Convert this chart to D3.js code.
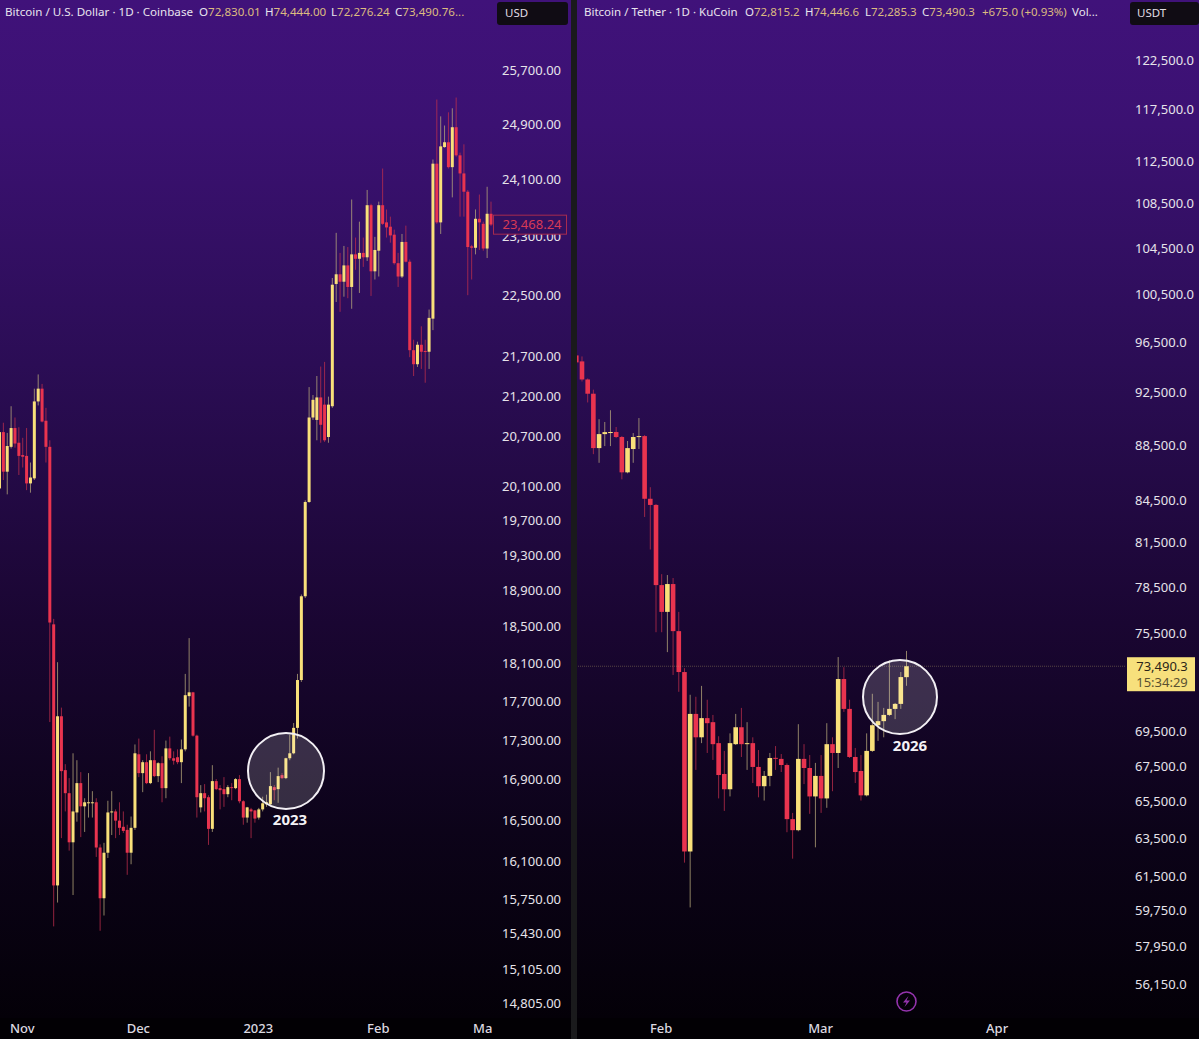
<!DOCTYPE html>
<html>
<head>
<meta charset="utf-8">
<script src="https://cdn.jsdelivr.net/npm/d3@7/dist/d3.min.js"></script>
<style>
html, body { margin: 0; padding: 0; background: #000; }
svg { display: block; }
text { font-family: "Noto Sans", sans-serif; }
</style>
</head>
<body>
<svg id="chart" width="1199" height="1039"></svg>
<script>
// BTC/USD Coinbase, daily, from 26 Oct 2022
var leftOpen = [20080,20760,20280,20580,20810,20630,20480,20470,20140,20200,
21140,21300,20900,20580,18530,15880,17550,17000,16770,16290,
16580,16870,16640,16670,16670,16680,16240,15760,16190,16580,
16590,16500,16440,16410,16190,16430,17160,16970,17080,16870,
17100,16940,17070,16820,17220,17120,17130,17080,17210,17760,
17800,17350,16630,16770,16730,16420,16890,16820,16810,16760,
16830,16820,16910,16690,16530,16610,16600,16530,16610,16660,
16660,16830,16810,16950,16920,17120,17170,17430,17930,18840,
19920,20940,20910,21190,21100,20700,21080,22660,22790,22690,
22910,22620,23060,23000,23080,23020,23740,22830,23110,23740,
23500,23440,23330,22940,22760,23230,22960,21790,21610,21860,
21780,21770,22200,24330,23500,24570,24640,24280,24860,24450,
24190,23930,23170,23150,23550,23480,23140,23620];
var leftHigh = [20880,20875,20750,21080,20940,20820,20690,20810,20390,21300,
21480,21360,21060,20660,18590,18120,17640,17060,16920,17170,
17100,16980,16720,16970,16790,16720,16270,16285,16695,16790,
16610,16680,16590,16460,16540,17260,17320,17100,17160,17190,
17410,17080,17140,17300,17340,17190,17210,17310,17995,18380,
17805,17360,16850,16860,16750,17050,16910,16850,16930,16850,
16870,16920,16950,16700,16635,16625,16605,16625,16735,16755,
16980,16850,17025,16970,17125,17360,17480,17995,18860,19940,
21320,21220,21460,21580,21640,21200,22740,23355,23080,23175,
23160,23820,23290,23510,23290,23955,23760,23300,23790,24260,
23680,23580,23400,23080,23340,23455,22990,21925,21900,22100,
21925,22320,24390,25270,25020,24885,25080,25140,25300,24490,
24610,23955,23190,23680,23890,23510,24000,23790];
var leftLow = [20010,20180,20010,20560,20570,20240,20330,20060,20030,20180,
21090,20880,20390,17490,15500,15720,16330,16590,16210,15790,
16490,16340,16390,16530,16530,16150,15460,15600,16140,16360,
16330,16360,16380,15980,16080,16410,16930,16780,16860,16860,
16930,16880,16680,16720,17100,17055,17060,16870,17190,17650,
17340,16530,16580,16590,16265,16390,16800,16610,16635,16730,
16700,16810,16670,16460,16480,16330,16480,16510,16590,16635,
16645,16700,16675,16910,16910,17100,17160,17320,17910,18820,
19910,20910,20660,20630,20640,20630,21060,22420,22290,22490,
22470,22330,22850,22540,22890,22970,22500,22720,22760,23465,
23290,23220,22920,22620,22740,22950,21700,21460,21575,21550,
21375,21550,22050,23480,23340,24560,24260,23850,24430,23580,
23580,22510,22720,23060,23120,23110,23010,23450];
var leftClose = [20760,20280,20590,20810,20620,20470,20460,20140,20210,21140,
21300,20890,20580,18550,15880,17550,16990,16770,16290,16590,
16870,16640,16680,16680,16680,16240,15760,16190,16580,16590,
16500,16430,16400,16190,16430,17170,16970,17080,16870,17100,
16940,17070,16820,17220,17120,17095,17080,17210,17770,17800,
17350,16730,16770,16720,16420,16890,16810,16800,16760,16830,
16820,16910,16690,16530,16630,16590,16520,16610,16670,16680,
16840,16800,16940,16920,17120,17170,17430,17930,18840,19920,
20940,21160,21190,20850,20660,21100,22650,22790,22690,22910,
22620,23060,23000,23080,23020,23740,22830,23120,23740,23480,
23430,23320,22940,22760,23230,22960,21790,21610,21860,21770,
21770,22210,24330,23500,24580,24640,24280,24860,24450,24190,
23930,23160,23150,23550,23500,23140,23620,23470];

// BTC/USDT KuCoin, daily, from 17 Jan 2026
var rightOpen = [95540,95060,93620,92500,88350,89400,89480,89560,89180,86560,
88280,89180,89250,84650,84210,78700,76940,78770,75700,73130,
62850,70590,69210,70340,70100,68870,67100,66240,68810,69800,
68810,68870,67500,66410,66990,68020,67960,67610,64590,63990,
67960,67440,65840,66990,65730,68810,68300,72700,70890,68070,
67270,65900,68420,69920,70160,70530,70890,71190,72815.2];
var rightHigh = [95700,95460,93700,92820,90530,90320,91220,89940,89260,88880,
89480,90620,89330,85480,84280,79430,79370,79170,76940,73370,
71740,71620,72280,71440,70530,69270,68420,69440,70590,70950,
70100,69210,68470,67270,68300,68700,68240,67700,64930,69980,
68810,68180,67730,68180,70040,69210,74060,73430,71440,68590,
68180,69440,71800,71310,70950,73860,71250,73130,74446.6];
var rightLow = [94740,93460,91820,87900,87260,88500,88500,89100,86050,86490,
87260,88280,83360,81100,75630,75630,74370,72950,71920,62260,
59950,67330,68870,68300,67900,65730,65040,65840,68760,68070,
67330,66590,65790,65610,66410,67330,67210,63880,62470,63930,
66530,64880,63070,64930,65210,66130,67440,70710,68010,66590,
65610,65840,68360,69000,69210,70470,70280,70890,72285.3];
var rightClose = [94980,93620,92500,88350,89400,89550,89560,89180,86560,88350,
89180,89250,84650,84210,78700,76940,78770,75700,73130,62850,
70590,69210,70340,70040,68810,67040,66240,68870,69800,68810,
68870,67500,66410,66990,68010,68000,67610,64590,63990,67960,
67440,65840,66990,65730,68810,68300,72700,70890,68070,67210,
65900,68420,69920,70160,70530,70890,71190,72820,73490.3];

var leftTicks = [25700,24900,24100,23300,22500,21700,21200,20700,20100,19700,19300,18900,18500,18100,17700,17300,16900,16500,16100,15750,15430,15105,14805];
var rightTicks = [122500,117500,112500,108500,104500,100500,96500,92500,88500,84500,81500,78500,75500,69500,67500,65500,63500,61500,59750,57950,56150];

var leftMonths = [6,36,67,98,125];
var leftMonthLabels = ["Nov","Dec","2023","Feb","Ma"];
var rightMonths = [15,43,74];
var rightMonthLabels = ["Feb","Mar","Apr"];

var red = "#e9344f", yellow = "#f9e07a";

var svg = d3.select("#chart");
var defs = svg.append("defs");

var grad = defs.append("linearGradient").attr("id","bg").attr("x1",0).attr("y1",0).attr("x2",0).attr("y2",1);
[[0,"#40127a"],[0.12,"#3b1172"],[0.35,"#2b0d55"],[0.6,"#1a0632"],[0.8,"#0c0319"],[1,"#030006"]].forEach(function(s){
    grad.append("stop").attr("offset",s[0]).attr("stop-color",s[1]);
});

svg.append("rect").attr("width",1199).attr("height",1039).attr("fill","#1a1a1c");

var drawPanel = function(p){
    var g = svg.append("g");
    g.append("rect").attr("x",p.x0).attr("y",0).attr("width",p.x1-p.x0).attr("height",1039).attr("fill","url(#bg)");
    g.append("rect").attr("x",p.x0).attr("y",1018).attr("width",p.x1-p.x0).attr("height",21).attr("fill","#020004");

    var xScale = d3.scaleLinear().domain(p.xDomain).range(p.xRange);
    var yScale = d3.scaleLog().domain(p.yDomain).range(p.yRange);

    defs.append("clipPath").attr("id",p.id+"clip").append("rect")
        .attr("x",p.x0).attr("y",0).attr("width",p.plotEnd-p.x0).attr("height",1039);

    var plot = g.append("g").attr("clip-path","url(#"+p.id+"clip)");
    var rows = p.open.map(function(o,i){
        return {i:i, o:o, h:p.high[i], l:p.low[i], c:p.close[i]};
    });
    var colour = function(d){ return d.c >= d.o ? yellow : red; };

    plot.selectAll("line.wick").data(rows).enter().append("line")
        .attr("class","wick")
        .attr("x1",function(d){return xScale(d.i);})
        .attr("x2",function(d){return xScale(d.i);})
        .attr("y1",function(d){return yScale(d.h);})
        .attr("y2",function(d){return yScale(d.l);})
        .attr("stroke",function(d){return d.c >= d.o ? "#b9ab7c" : "#c02f4c";})
        .attr("stroke-opacity",0.75)
        .attr("stroke-width",1);

    plot.selectAll("rect.body").data(rows).enter().append("rect")
        .attr("class","body")
        .attr("x",function(d){return xScale(d.i)-p.bodyW/2;})
        .attr("y",function(d){return yScale(Math.max(d.o,d.c));})
        .attr("width",p.bodyW)
        .attr("height",function(d){return Math.max(1,yScale(Math.min(d.o,d.c))-yScale(Math.max(d.o,d.c)));})
        .attr("fill",colour);

    var yAxis = d3.axisRight(yScale).tickValues(p.ticks).tickSize(0).tickPadding(0)
        .tickFormat(d3.format(p.fmt));
    var ya = g.append("g").attr("transform","translate("+p.axisX+","+p.axisShift+")").call(yAxis);
    ya.select(".domain").remove();
    ya.selectAll("text").attr("font-size",13).attr("fill","#e6e3ea").style("font-family","\"Noto Sans\", sans-serif");

    var xAxis = d3.axisBottom(xScale).tickValues(p.months).tickSize(0).tickPadding(0)
        .tickFormat(function(d,i){return p.monthLabels[i];});
    var xa = g.append("g").attr("transform","translate(-1,1024)").call(xAxis);
    xa.select(".domain").remove();
    xa.selectAll("text").attr("font-size",13).attr("font-weight",500).attr("fill","#dcd9e0").style("font-family","\"Noto Sans\", sans-serif");

    return {x:xScale, y:yScale, g:g};
};

var left = drawPanel({
    id:"l", x0:0, x1:571, plotEnd:493,
    xDomain:[0,127], xRange:[-0.5,491],
    yDomain:[14805,25700], yRange:[1004,71],
    open:leftOpen, high:leftHigh, low:leftLow, close:leftClose,
    bodyW:3, axisX:502, axisShift:-0.4, ticks:leftTicks, fmt:",.2f",
    months:leftMonths, monthLabels:leftMonthLabels
});
var right = drawPanel({
    id:"r", x0:577, x1:1199, plotEnd:1125,
    xDomain:[0,58], xRange:[576.3,906.5],
    yDomain:[56150,122500], yRange:[985,61],
    open:rightOpen, high:rightHigh, low:rightLow, close:rightClose,
    bodyW:4.6, axisX:1135, axisShift:-1, ticks:rightTicks, fmt:",.1f",
    months:rightMonths, monthLabels:rightMonthLabels
});

// header lines
var drawHeader = function(parts, y, size){
    var t = svg.append("g").attr("font-size",size);
    parts.forEach(function(s){
        var el = t.append("text").attr("x",s[0]).attr("y",y).attr("fill","#e8e4ee");
        el.append("tspan").text(s[1]);
        el.append("tspan").attr("fill","#dcbb80").text(s[2]);
    });
};
drawHeader([[5,"Bitcoin / U.S. Dollar · 1D · Coinbase",""],[199,"O","72,830.01"],[265,"H","74,444.00"],[331,"L","72,276.24"],[395,"C","73,490.76..."]],16,11.6);
drawHeader([[584,"Bitcoin / Tether · 1D · KuCoin",""],[745,"O","72,815.2"],[805,"H","74,446.6"],[865,"L","72,285.3"],[922,"C","73,490.3"],[982,"","+675.0 (+0.93%)"],[1072,"Vol...",""]],16,11.5);

// currency boxes
[[497,71,"USD",505],[1130,69,"USDT",1137]].forEach(function(b){
    svg.append("rect").attr("x",b[0]).attr("y",2).attr("width",b[1]).attr("height",23).attr("rx",3).attr("fill","#100c14");
    svg.append("text").attr("x",b[3]).attr("y",17).attr("font-size",11.5).attr("fill","#e0dde4").text(b[2]);
});

// last price on the left panel
var lastY = left.y(23468.24);
svg.append("rect").attr("x",493.5).attr("y",lastY-9.5).attr("width",73).attr("height",19)
    .attr("fill","#33105f").attr("stroke","#a72b4e").attr("stroke-width",1);
svg.append("text").attr("x",532).attr("y",lastY+4.5).attr("text-anchor","middle")
    .attr("font-size",13).attr("fill","#d83a55").text("23,468.24");

// last price on the right panel
var liveY = right.y(73490.3);
svg.append("line").attr("x1",578).attr("x2",1126).attr("y1",liveY).attr("y2",liveY)
    .attr("stroke","#b8a86a").attr("stroke-opacity",0.4).attr("stroke-dasharray","1,1");
svg.append("rect").attr("x",1127).attr("y",liveY-9).attr("width",68).attr("height",34).attr("fill","#f7e07c");
svg.append("text").attr("x",1162).attr("y",liveY+4.5).attr("text-anchor","middle").attr("font-size",13).attr("fill","#2a2418").text("73,490.3");
svg.append("text").attr("x",1162).attr("y",liveY+20.5).attr("text-anchor","middle").attr("font-size",13).attr("fill","#5a5030").text("15:34:29");

// highlight circles
[[286,771,38,"2023",290,825],[900,697,37,"2026",910,751]].forEach(function(c){
    svg.append("circle").attr("cx",c[0]).attr("cy",c[1]).attr("r",c[2])
        .attr("fill","#ffffff").attr("fill-opacity",0.17)
        .attr("stroke","#f2eff4").attr("stroke-width",2);
    svg.append("text").attr("x",c[4]).attr("y",c[5]).attr("text-anchor","middle")
        .attr("font-size",15).attr("font-weight",700).attr("fill","#f4f2f6").text(c[3]);
});

// bolt icon
svg.append("circle").attr("cx",906.5).attr("cy",1001.5).attr("r",9.5).attr("fill","none").attr("stroke","#9433ad").attr("stroke-width",1.6);
svg.append("path").attr("d","M908.5 996 L903 1002.5 L906.5 1002.5 L904.5 1007 L910 1000.5 L906.5 1000.5 Z").attr("fill","#9433ad");
</script>
</body>
</html>
